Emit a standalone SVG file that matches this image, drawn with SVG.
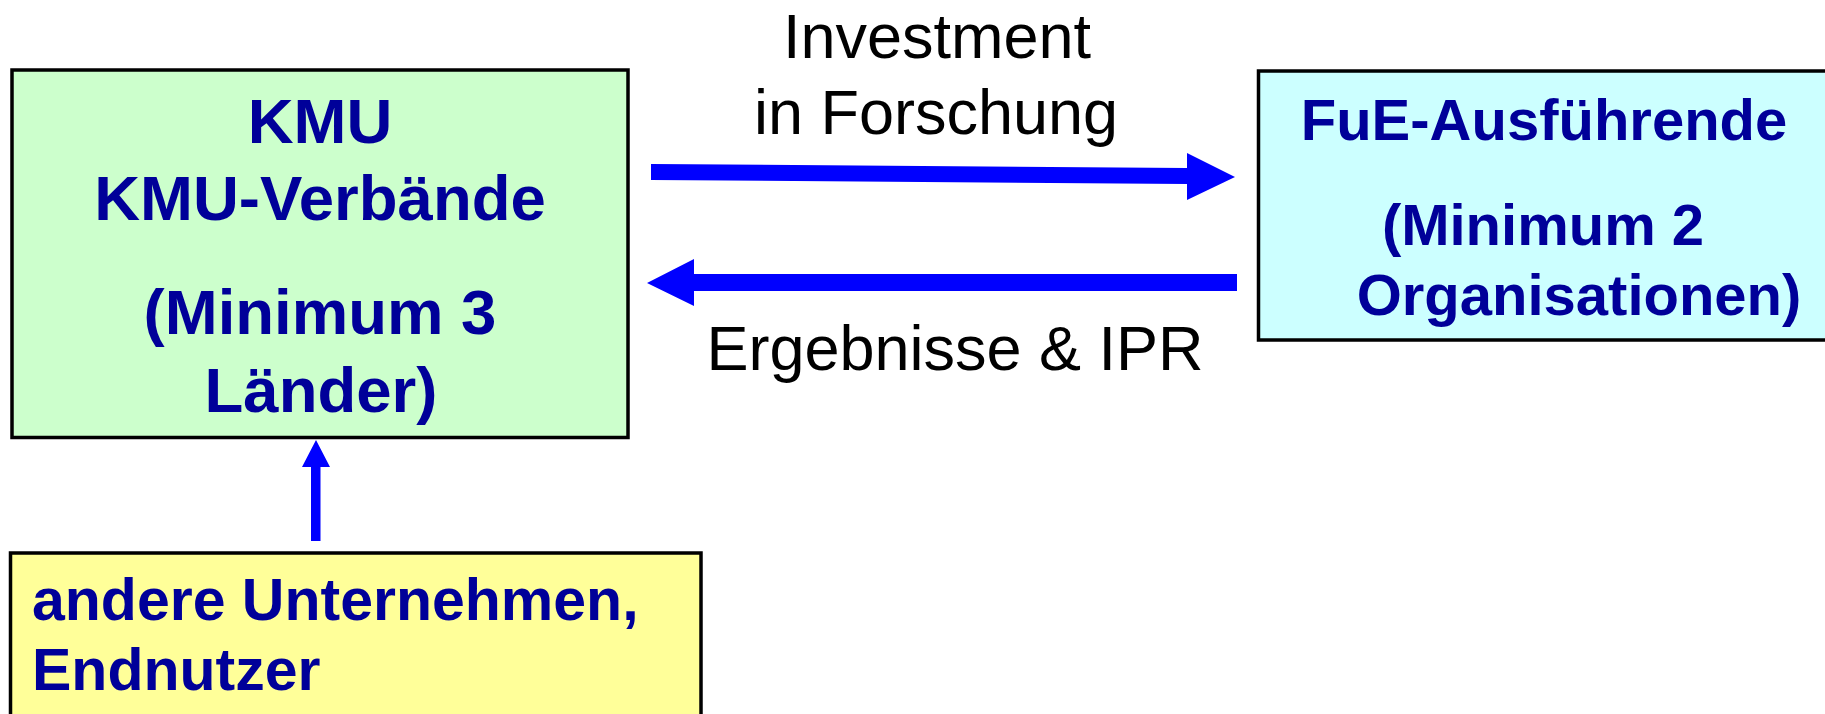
<svg xmlns="http://www.w3.org/2000/svg" width="1825" height="714" viewBox="0 0 1825 714">
<style>
.box{stroke:#000;stroke-width:3.5}
.nt{font-family:"Liberation Sans",Arial,sans-serif;font-weight:bold;fill:#000099}
.c{text-anchor:middle}
.lbl{font-family:"Liberation Sans",Arial,sans-serif;font-size:63px;fill:#000;text-anchor:middle}
.arr{fill:#0000FF}
</style>
<rect width="1825" height="714" fill="#fff"/>
<g id="connectors">
<polygon class="arr" points="651,164 1187,168 1187,153 1235,177 1187,200 1187,184 651,180"/>
<polygon class="arr" points="1237,274 694,274 694,259 647,283 694,306 694,291 1237,291"/>
<polygon class="arr" points="311,541 311,467 302,467 316,440 330,467 320.5,467 320.5,541"/>
<text class="lbl" x="937" y="58">Investment</text>
<text class="lbl" x="936" y="134">in Forschung</text>
<text class="lbl" x="955" y="370">Ergebnisse &amp; IPR</text>
</g>
<g id="kmu">
<rect class="box" x="12" y="70" width="616" height="367.5" fill="#CCFFCC"/>
<text class="nt c" font-size="63.5" x="320" y="143">KMU</text>
<text class="nt c" font-size="63.5" x="320" y="220">KMU-Verbände</text>
<text class="nt c" font-size="63.5" x="320" y="334">(Minimum 3</text>
<text class="nt c" font-size="63.5" x="321" y="412">Länder)</text>
</g>
<g id="fue">
<rect class="box" x="1258.5" y="71" width="600" height="269" fill="#CCFFFF"/>
<text class="nt c" font-size="58" x="1544" y="140">FuE-Ausführende</text>
<text class="nt c" font-size="58" x="1543" y="245">(Minimum 2</text>
<text class="nt c" font-size="58" x="1579" y="315">Organisationen)</text>
</g>
<g id="andere">
<rect class="box" x="10.5" y="553" width="690.5" height="200" fill="#FFFF99"/>
<text class="nt" font-size="59" x="32" y="620">andere Unternehmen,</text>
<text class="nt" font-size="59" x="32" y="690">Endnutzer</text>
</g>
</svg>
